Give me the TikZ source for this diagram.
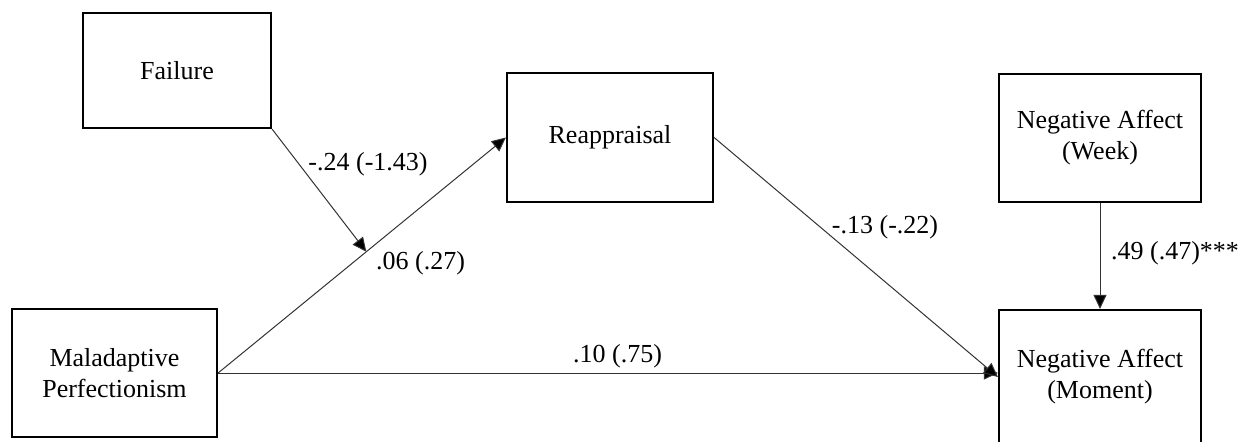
\documentclass[tikz,border=0pt]{standalone}
\usepackage{fontspec}
\setmainfont{Liberation Serif}
\usetikzlibrary{arrows.meta,calc}
\begin{document}
\begin{tikzpicture}[x=0.5pt,y=-0.5pt,
  box/.style={draw=black,line width=1.1pt,fill=white,align=center,inner sep=0pt,
    font=\fontsize{13pt}{15.5pt}\selectfont},
  conn/.style={draw=black!80,line width=0.5pt,-{Triangle[length=7pt,width=6.5pt,fill=black]}},
  lbl/.style={font=\fontsize{13pt}{15.5pt}\selectfont,inner sep=0pt}]
\useasboundingbox (0,0) rectangle (1247,441);
\node[box,minimum width=94pt,minimum height=57.5pt] (fa) at (177,70.5) {Failure};
\node[box,minimum width=103pt,minimum height=64.5pt] (re) at (610,137.5) {Reappraisal};
\node[box,minimum width=102.5pt,minimum height=64pt] (mp) at (114.5,373) {Maladaptive\\Perfectionism};
\node[box,minimum width=101pt,minimum height=64pt] (wk) at (1100,138) {Negative Affect\\(Week)};
\node[box,minimum width=101pt,minimum height=67pt] (mo) at (1100,377) {Negative Affect\\(Moment)};
\coordinate (mod) at ($(mp.east)!0.515!(re.west)$);
\draw[conn] (mp.east) -- (re.west);
\draw[conn] (fa.south east) -- (mod);
\draw[conn] (mp.east) -- (mp.east -| mo.west);
\draw[conn] (re.east) -- (mo.west);
\draw[conn] (wk.south) -- (mo.north);
\node[lbl] (l1) at (368,164) {-.24 (-1.43)};
\node[lbl] (l2) at (420.5,263) {.06 (.27)};
\node[lbl] (l3) at (617.5,356) {.10 (.75)};
\node[lbl] (l4) at (885,227) {-.13 (-.22)};
\node[lbl] (l5) at (1175,253) {.49 (.47)***};
\end{tikzpicture}
\end{document}
